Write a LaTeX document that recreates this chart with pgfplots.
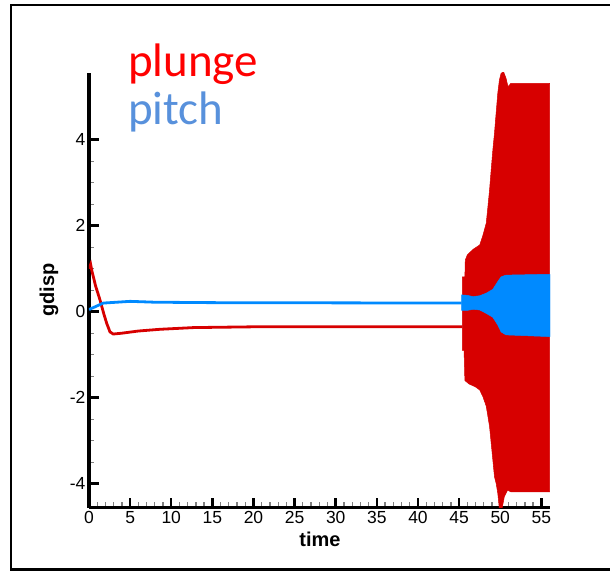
\documentclass[border=0pt]{standalone}
\usepackage{pgfplots}
\pgfplotsset{compat=1.18}
\usepackage{fontspec}
\setmainfont{Liberation Sans}
\newfontfamily\calib{Carlito}
\definecolor{plotred}{RGB}{215,0,0}
\definecolor{plotblue}{RGB}{0,138,255}
\definecolor{txtred}{RGB}{255,0,0}
\definecolor{txtblue}{RGB}{88,145,220}
\begin{document}
\begin{tikzpicture}
\useasboundingbox (0bp,0bp) rectangle (610bp,571bp);
\fill[white] (0bp,0bp) rectangle (610bp,571bp);
\draw[line width=2.2bp] (610bp,566bp) -- (11bp,566bp) -- (11bp,1.5bp) -- (610bp,1.5bp);
\begin{axis}[
  at={(89bp,63bp)}, anchor=south west,
  scale only axis, width=461bp, height=435bp,
  xmin=0, xmax=56.05, ymin=-4.565, ymax=5.55,
  axis x line*=bottom, axis y line*=left,
  axis line style={line width=3bp, black},
  xtick={0,5,...,55}, ytick={-4,-2,0,2,4},
  minor x tick num=4, minor y tick num=3,
  tick align=inside,
  major tick length=10bp, minor tick length=5.5bp,
  every major tick/.append style={line width=2.5bp, black},
  every minor tick/.append style={line width=1.3bp, gray},
  tick label style={font=\fontsize{17.5bp}{20bp}\selectfont},
  /pgf/number format/assume math mode=true,
  xlabel={time}, ylabel={gdisp},
  every axis x label/.style={at={(axis description cs:0.501,-0.0713)}, anchor=center, inner sep=0pt, font=\fontsize{20bp}{22bp}\selectfont\bfseries},
  every axis y label/.style={at={(axis description cs:-0.0868,0.501)}, anchor=center, rotate=90, inner sep=0pt, font=\fontsize{20bp}{22bp}\selectfont\bfseries},
]
% plunge, steady part
\addplot[plotred, line width=2.8bp] coordinates {
 (0,1.0) (0.2,1.1) (0.35,0.95) (0.8,0.6) (1.34,0.27) (1.8,-0.05) (2.15,-0.27)
 (2.55,-0.47) (2.95,-0.52) (4,-0.5) (6,-0.45) (8.6,-0.41) (12.7,-0.37)
 (20.8,-0.35) (30,-0.35) (45.4,-0.35)
};
% plunge, oscillation envelope
\addplot[draw=plotred, line width=0.5bp, fill=plotred] coordinates {
 (45.4,-0.35) (45.4,0.81) (45.7,0.81) (45.75,1.2) (46.0,1.32) (46.7,1.45)
 (47.5,1.55) (47.9,1.78) (48.3,2.06) (48.5,2.44) (48.7,2.83) (48.9,3.3)
 (49.1,3.76) (49.3,4.15) (49.5,4.62) (49.7,5.08) (49.9,5.39) (50.1,5.54)
 (50.4,5.58) (50.7,5.43) (50.95,5.23) (51.3,5.31) (56,5.31)
 (56,-4.19) (51.3,-4.19) (50.9,-4.15) (50.5,-4.3) (50.2,-4.6) (49.9,-4.6)
 (49.7,-4.22) (49.5,-3.99) (49.3,-3.84) (49.1,-3.45) (48.9,-3.06) (48.7,-2.67)
 (48.3,-2.2) (47.9,-1.98) (47.5,-1.82) (47,-1.75) (46.2,-1.68) (45.7,-1.6)
 (45.6,-0.9) (45.4,-0.9)
} -- cycle;
% pitch, steady part
\addplot[plotblue, line width=2.8bp] coordinates {
 (0,0.05) (0.12,0.06) (0.93,0.13) (1.74,0.2) (2.55,0.21) (5,0.24) (8,0.22)
 (15,0.21) (45.3,0.2)
};
% pitch, oscillation envelope
\addplot[draw=plotblue, line width=0.5bp, fill=plotblue] coordinates {
 (45.3,0.2) (45.3,0.39) (46,0.38) (46.7,0.35) (47.5,0.37) (48.3,0.43)
 (49.1,0.52) (49.7,0.70) (50.1,0.81) (50.7,0.85) (56.05,0.87)
 (56.05,-0.58) (50.7,-0.54) (50.1,-0.47) (49.7,-0.31) (49.1,-0.13)
 (48.3,-0.04) (47.5,0.04) (46.7,0.055) (46,0.03) (45.3,0.03)
} -- cycle;
\end{axis}
\node[anchor=base west, inner sep=0pt, text=txtred, font=\calib\fontsize{47bp}{51bp}\selectfont] at (128bp,494.3bp) {plunge};
\node[anchor=base west, inner sep=0pt, text=txtblue, font=\calib\fontsize{47bp}{51bp}\selectfont] at (128bp,446bp) {pitch};
\end{tikzpicture}
\end{document}
